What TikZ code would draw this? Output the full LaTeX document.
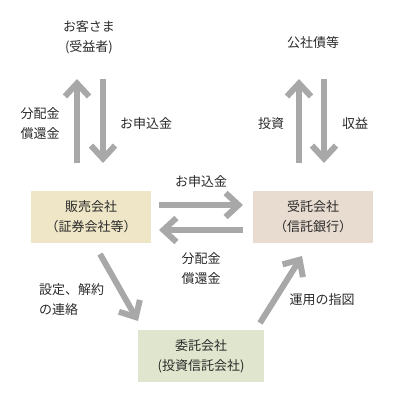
\documentclass[tikz,border=0pt]{standalone}
\usepackage{fontspec}
\setmainfont{Noto Sans CJK JP}
\usetikzlibrary{arrows.meta}
\definecolor{arrgray}{HTML}{A8A8A8}
\definecolor{boxA}{HTML}{EEE6C6}
\definecolor{boxB}{HTML}{E8DBD0}
\definecolor{boxC}{HTML}{DFE6CD}
\definecolor{txt}{HTML}{2A2A2A}
\tikzset{
  box/.style={minimum width=120pt, minimum height=52pt, inner sep=0pt, align=center, text=txt,
    font=\fontsize{13}{20}\selectfont},
  lbl/.style={inner sep=0pt, align=center, text=txt, font=\fontsize{13}{20}\selectfont},
  flow/.style={draw=arrgray, line width=6pt,
    -{Straight Barb[length=13pt, width=24pt, line width=6pt, sharp]}}
}
\begin{document}
\begin{tikzpicture}[x=1pt, y=-1pt]
\useasboundingbox (0,0) rectangle (400,402);
% boxes
\node[box, fill=boxA] (sales) at (91,217) {販売会社\\（証券会社等）};
\node[box, fill=boxB] (trust) at (313,217) {受託会社\\（信託銀行）};
\node[box, fill=boxC, minimum width=126pt] (mgr) at (201,356) {委託会社\\(投資信託会社)};
% top texts
\node[lbl] (cust) at (89,37) {お客さま\\(受益者)};
\node[lbl] (bond) at (313,43) {公社債等};
% coordinates
\coordinate (cA) at (77,163); \coordinate (cB) at (77,79);
\coordinate (cC) at (103,79); \coordinate (cD) at (103,163);
\coordinate (dA) at (299,163); \coordinate (dB) at (299,79);
\coordinate (dC) at (324,79); \coordinate (dD) at (324,163);
\coordinate (mA) at (159,205); \coordinate (mB) at (243,205);
\coordinate (mC) at (243,230); \coordinate (mD) at (159,230);
\coordinate (gA) at (100,254); \coordinate (gB) at (138,321);
\coordinate (hA) at (260,323); \coordinate (hB) at (302,256);
% arrows
\draw[flow] (cA) -- (cB);
\draw[flow] (cC) -- (cD);
\draw[flow] (dA) -- (dB);
\draw[flow] (dC) -- (dD);
\draw[flow] (mA) -- (mB);
\draw[flow] (mC) -- (mD);
\draw[flow] (gA) -- (gB);
\draw[flow] (hA) -- (hB);
% labels
\node[lbl] (l1) at (40,124) {分配金\\償還金};
\node[lbl] (l2) at (146,124) {お申込金};
\node[lbl] (l3) at (271,124) {投資};
\node[lbl] (l4) at (355,124) {収益};
\node[lbl] (l5) at (201,182) {お申込金};
\node[lbl] (l6) at (201,269) {分配金\\償還金};
\node[lbl, align=left, anchor=west] (l7) at (39,300) {設定、解約\\の連絡};
\node[lbl] (l8) at (322,300) {運用の指図};
\end{tikzpicture}
\end{document}
